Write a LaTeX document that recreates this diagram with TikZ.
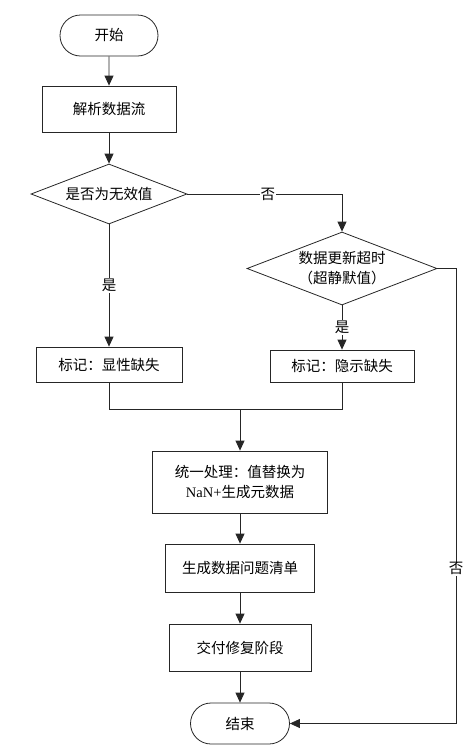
\documentclass[tikz,border=0pt]{standalone}
\usepackage{fontspec}
\newfontfamily\cjk{Noto Sans CJK SC}
\newfontfamily\lat{Liberation Serif}
\usetikzlibrary{shapes.geometric,shapes.misc,arrows.meta}
\begin{document}
\begin{tikzpicture}[x=1pt,y=-1pt,
  font=\cjk\fontsize{14.5}{20}\selectfont,
  line width=0.8pt, draw=black!85,
  box/.style={draw, rectangle, inner sep=0pt, align=center},
  term/.style={draw, rounded rectangle, inner sep=0pt},
  dec/.style={draw, diamond, inner sep=-15pt, align=center},
  arr/.style={-{Triangle[length=10pt,width=9pt]}},
  lbl/.style={fill=white, inner sep=1pt}]
\useasboundingbox (0,0) rectangle (467,753);
\node[term, minimum width=98, minimum height=41] (start) at (109,35.5) {开始};
\node[box, minimum width=134, minimum height=46] (parse) at (109,109) {解析数据流};
\node[dec, minimum width=156, minimum height=60] (d1) at (109,194) {是否为无效值};
\node[dec, minimum width=190, minimum height=73] (d2) at (342,268.5) {数据更新超时\\（超静默值）};
\node[box, minimum width=146, minimum height=35] (explicit) at (109,364.5) {标记：显性缺失};
\node[box, minimum width=144, minimum height=32] (implicit) at (342,366) {标记：隐示缺失};
\node[box, minimum width=175, minimum height=62] (unify) at (240,482) {统一处理：值替换为\\{\lat NaN+}生成元数据};
\node[box, minimum width=149, minimum height=48] (list) at (240,568) {生成数据问题清单};
\node[box, minimum width=142, minimum height=47] (deliver) at (240,647.5) {交付修复阶段};
\node[term, minimum width=99, minimum height=41] (end) at (240,723.5) {结束};
\coordinate (m) at (240,409);
\coordinate (r) at (456,268.5);
\draw[arr] (start) -- (parse);
\draw[arr] (parse) -- (d1);
\draw[arr] (d1.east) -| node[lbl, pos=0.26] {否} (d2.north);
\draw[arr] (d1.south) -- node[lbl] {是} (explicit.north);
\draw[arr] (d2.south) -- node[lbl] {是} (implicit.north);
\draw (explicit.south) -- (explicit.south |- m) -- (implicit.south |- m) -- (implicit.south);
\draw[arr] (m) -- (unify.north);
\draw[arr] (unify) -- (list);
\draw[arr] (list) -- (deliver);
\draw[arr] (deliver) -- (end);
\draw[arr] (d2.east) -- (r) |- node[lbl, pos=0.33] {否} (end.east);
\end{tikzpicture}
\end{document}
